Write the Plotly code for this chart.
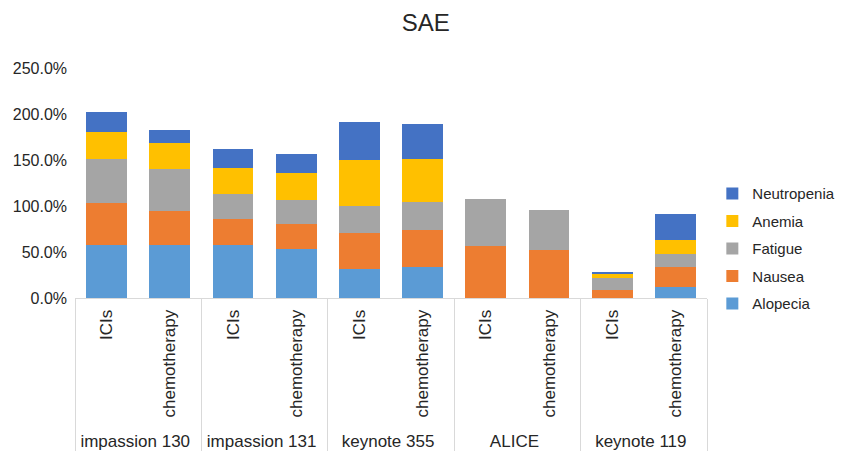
import plotly.graph_objects as go

trials = ["impassion 130", "impassion 130", "impassion 131", "impassion 131",
          "keynote 355", "keynote 355", "ALICE", "ALICE", "keynote 119", "keynote 119"]
arms = ["ICIs", "chemotherapy"] * 5

alopecia = [57.2, 57.2, 58.0, 52.9, 31.5, 33.3, 0, 0, 0, 12.0]
nausea = [46.4, 37.7, 27.9, 27.9, 39.5, 41.0, 56.9, 52.5, 9.2, 21.7]
fatigue = [47.8, 45.7, 26.8, 25.7, 29.0, 30.0, 50.3, 43.5, 12.7, 14.5]
anemia = [28.7, 27.9, 29.0, 29.0, 49.6, 46.4, 0, 0, 4.3, 14.5]
neutropenia = [21.7, 14.5, 20.6, 20.7, 41.3, 38.4, 0, 0, 1.8, 29.0]

y_ticks = [0, 50, 100, 150, 200, 250]
y_tick_text = ["0.0%", "50.0%", "100.0%", "150.0%", "200.0%", "250.0%"]

series = [("Alopecia", alopecia, "#5B9BD5"),
          ("Nausea", nausea, "#ED7D31"),
          ("Fatigue", fatigue, "#A5A5A5"),
          ("Anemia", anemia, "#FFC000"),
          ("Neutropenia", neutropenia, "#4472C4")]

FONT = "Liberation Sans, Arial, sans-serif"
fig = go.Figure()
for i, (name, vals, color) in enumerate(series):
    fig.add_trace(go.Bar(x=[trials, arms], y=vals, name=name, legendgroup=name,
                         legendrank=1000 - i,
                         marker=dict(color=color, line=dict(width=0))))

fig.update_layout(
    barmode="stack", bargap=0.355,
    width=845, height=457,
    margin=dict(l=75, r=138, t=68, b=159),
    paper_bgcolor="white", plot_bgcolor="white",
    title=dict(text="SAE", xref="paper", x=0.555, xanchor="center",
               yref="container", y=0.95, yanchor="middle",
               font=dict(family=FONT, size=24, color="#262626")),
    font=dict(family=FONT, size=15, color="#262626"),
    legend=dict(xref="container", x=0.843, xanchor="left",
                yref="container", y=0.612, yanchor="top",
                traceorder="grouped", font=dict(size=15, color="#262626"),
                itemwidth=30, tracegroupgap=5, bgcolor="rgba(0,0,0,0)"),
    showlegend=True,
)
fig.update_xaxes(type="multicategory", tickangle=-90, automargin=False,
                 showline=True, linecolor="#D9D9D9", linewidth=1,
                 showdividers=True, dividercolor="#D9D9D9", dividerwidth=1,
                 ticks="", ticklabelstandoff=4,
                 tickfont=dict(size=17, color="#262626"))
fig.update_yaxes(range=[0, 250], tickvals=y_ticks, ticktext=y_tick_text,
                 showgrid=False, zeroline=False, showline=False,
                 automargin=False, ticklabelstandoff=7,
                 tickfont=dict(size=16, color="#262626"))

fig.write_html("out.html")
